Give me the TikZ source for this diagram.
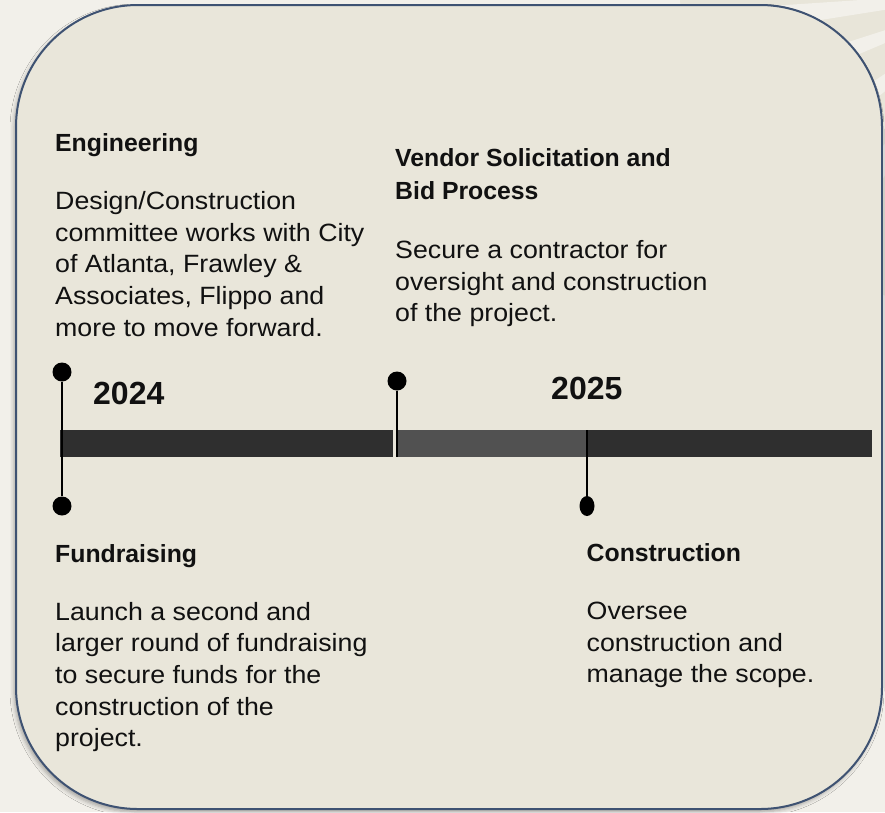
\documentclass[tikz,border=0pt]{standalone}
\usepackage{fontspec}
\setmainfont{Liberation Sans}
\newfontfamily\bodyfont{Liberation Sans}[FakeStretch=1.07]
\usetikzlibrary{shapes.geometric,shadows.blur}

\definecolor{page}{HTML}{F2F0EA}
\definecolor{card}{HTML}{E9E6DA}
\definecolor{rim}{HTML}{3E5272}
\definecolor{bardark}{HTML}{2F2F2F}
\definecolor{barmid}{HTML}{515151}
\definecolor{ray}{HTML}{E8E5D9}
\definecolor{ink}{HTML}{111111}

% multi-line text block whose reference point is the first baseline
\newcommand{\textblock}[1]{\parbox[t]{12cm}{\raggedright #1}}

\tikzset{
  body/.style={inner sep=0pt, anchor=base west, text=ink,
               font=\bodyfont\fontsize{25}{31.7}\selectfont},
  head/.style={inner sep=0pt, anchor=base west, text=ink,
               font=\fontsize{24.8}{32.3}\selectfont\bfseries},
  year/.style={inner sep=0pt, anchor=base west, text=ink,
               font=\fontsize{32}{38}\selectfont\bfseries},
  pin/.style={circle, fill=black, inner sep=0pt, minimum size=19pt},
  pinoval/.style={ellipse, fill=black, inner sep=0pt, minimum width=15pt, minimum height=20pt},
  stem/.style={line width=2pt, draw=black},
}

\begin{document}
\begin{tikzpicture}[x=1pt, y=-1pt]
  \useasboundingbox (0,0) rectangle (885,812);
  \fill[page] (0,0) rectangle (885,812);

  % faint sunburst ornament behind the card
  \begin{scope}
    \clip (0,0) rectangle (885,812);
    \fill[ray] (1010,-10) circle (330pt);
    \foreach \a in {124,141,157,171,184} {
      \fill[page] (1010,-10) -- ++(\a:420) -- ++(90+\a:38) -- cycle;
    }
  \end{scope}

  % the card
  \path[draw=rim, line width=2pt, fill=card, rounded corners=122pt,
        blur shadow={shadow xshift=-2pt, shadow yshift=-3pt,
                     shadow blur radius=4pt, shadow opacity=32}]
    (16,5) rectangle (882,809);

  % timeline bar
  \fill[bardark] (60,430) rectangle (393,457);
  \fill[barmid]  (396,430) rectangle (587,457);
  \fill[bardark] (587,430) rectangle (872,457);

  % markers
  \node[pin] (m1top) at (62,372) {};
  \node[pin] (m1bot) at (62,506) {};
  \draw[stem] (m1top) -- (m1bot);

  \node[pin] (m2top) at (397,381) {};
  \coordinate (m2end) at (397,457);
  \draw[stem] (m2top) -- (m2end);

  \coordinate (m3start) at (587,430);
  \node[pinoval] (m3bot) at (587,506) {};
  \draw[stem] (m3start) -- (m3bot);

  % years
  \node[year] (y2024) at (93,404) {2024};
  \node[year] (y2025) at (551,399.5) {2025};

  % Engineering
  \node[head] (engT) at (55,151) {Engineering};
  \node[body] (engB) at (55,209.3) {\textblock{Design/Construction\\
    committee works with City\\of Atlanta, Frawley \&\\
    Associates, Flippo and\\more to move forward.}};

  % Vendor solicitation
  \node[head] (venT) at (395,166.7) {\textblock{Vendor Solicitation and\\Bid Process}};
  \node[body] (venB) at (395,258.3) {\textblock{Secure a contractor for\\
    oversight and construction\\of the project.}};

  % Fundraising
  \node[head] (funT) at (55,562.3) {Fundraising};
  \node[body] (funB) at (55,620) {\textblock{Launch a second and\\
    larger round of fundraising\\to secure funds for the\\
    construction of the\\project.}};

  % Construction
  \node[head] (conT) at (586.5,561.7) {Construction};
  \node[body] (conB) at (586.5,619.3) {\textblock{Oversee\\
    construction and\\manage the scope.}};
\end{tikzpicture}
\end{document}
